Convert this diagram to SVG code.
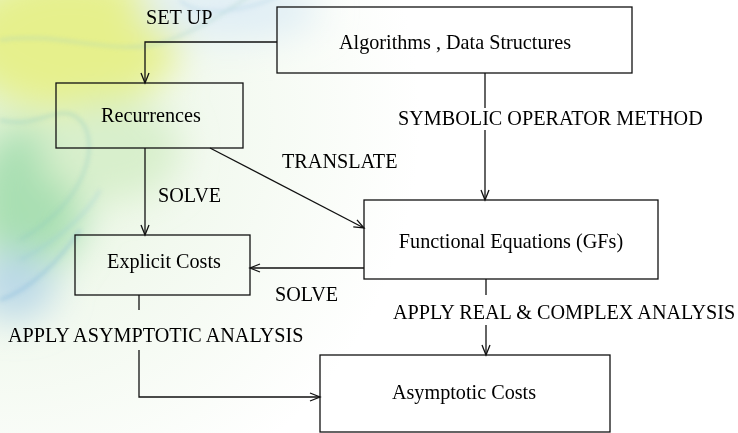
<svg xmlns="http://www.w3.org/2000/svg" width="738" height="433" viewBox="0 0 738 433">
<defs>
<style>
.box{fill:none;stroke:#111;stroke-width:1.3}
.ln{fill:none;stroke:#111;stroke-width:1.3}
.t{font-family:"Liberation Serif","Times New Roman",serif;font-size:20.2px;fill:#000}
.c{text-anchor:middle}
</style>
<marker id="ah" markerUnits="userSpaceOnUse" markerWidth="14" markerHeight="12" refX="11" refY="5" orient="auto">
<path d="M1,1 L11,5 L1,9" fill="none" stroke="#111" stroke-width="1.3"/>
</marker>
<filter id="blur" x="-50%" y="-50%" width="200%" height="200%"><feGaussianBlur stdDeviation="18"/></filter>
<filter id="blur2" x="-20%" y="-20%" width="140%" height="140%"><feGaussianBlur stdDeviation="2"/></filter>
<radialGradient id="bg" gradientUnits="userSpaceOnUse" cx="0" cy="120" r="420">
<stop offset="0" stop-color="#e2f3d6"/>
<stop offset="0.5" stop-color="#f2f9ef"/>
<stop offset="1" stop-color="#ffffff"/>
</radialGradient>
</defs>
<g id="background">
<rect x="0" y="0" width="738" height="433" fill="#ffffff"/>
<rect x="0" y="0" width="738" height="433" fill="url(#bg)"/>
<g filter="url(#blur)">
<ellipse cx="70" cy="40" rx="110" ry="70" fill="#e6f08c"/>
<ellipse cx="30" cy="200" rx="55" ry="75" fill="#a9dfb2"/>
<ellipse cx="15" cy="285" rx="40" ry="35" fill="#bcd9e8"/>
<ellipse cx="230" cy="10" rx="90" ry="30" fill="#e0eef5"/>
<ellipse cx="110" cy="150" rx="70" ry="50" fill="#d8efcc"/>
</g>
<g filter="url(#blur2)" fill="none" stroke-width="2">
<path d="M0,40 C60,30 120,60 170,40 S240,0 260,-10" stroke="#9fd0c6" opacity="0.5"/>
<path d="M0,120 C40,130 60,100 80,120 S90,200 20,240" stroke="#86c6c0" opacity="0.5"/>
<path d="M0,300 C30,290 60,260 80,230" stroke="#6aa9d8" opacity="0.5"/>
<path d="M20,260 C60,240 90,210 100,190" stroke="#8cc2dc" opacity="0.4"/>
<path d="M180,0 C200,20 250,10 280,-5" stroke="#a8cfe6" opacity="0.5"/>
</g>
</g>
<g id="connectors">
<polyline class="ln" points="277,42 145,42 145,83" marker-end="url(#ah)"/>
<line class="ln" x1="145" y1="148" x2="145" y2="235" marker-end="url(#ah)"/>
<line class="ln" x1="210" y1="148" x2="364" y2="228" marker-end="url(#ah)"/>
<line class="ln" x1="485" y1="73" x2="485" y2="108"/>
<line class="ln" x1="485" y1="130" x2="485" y2="200" marker-end="url(#ah)"/>
<line class="ln" x1="364" y1="268" x2="250" y2="268" marker-end="url(#ah)"/>
<line class="ln" x1="486" y1="279" x2="486" y2="295"/>
<line class="ln" x1="486" y1="325" x2="486" y2="355" marker-end="url(#ah)"/>
<line class="ln" x1="139" y1="295" x2="139" y2="310"/>
<polyline class="ln" points="139,350 139,397 320,397" marker-end="url(#ah)"/>
<text class="t" x="146" y="24">SET UP</text>
<text class="t" x="158" y="202">SOLVE</text>
<text class="t" x="282" y="168">TRANSLATE</text>
<text class="t" x="398" y="125">SYMBOLIC OPERATOR METHOD</text>
<text class="t" x="275" y="301">SOLVE</text>
<text class="t" x="393" y="319">APPLY REAL &amp; COMPLEX ANALYSIS</text>
<text class="t" x="8" y="342">APPLY ASYMPTOTIC ANALYSIS</text>
</g>
<g id="algorithms">
<rect class="box" x="277" y="7" width="355" height="66"/>
<text class="t c" x="455" y="49">Algorithms , Data Structures</text>
</g>
<g id="recurrences">
<rect class="box" x="56" y="83" width="187" height="65"/>
<text class="t c" x="151" y="122">Recurrences</text>
</g>
<g id="explicit">
<rect class="box" x="75" y="235" width="175" height="60"/>
<text class="t c" x="164" y="268">Explicit Costs</text>
</g>
<g id="functional">
<rect class="box" x="364" y="200" width="294" height="79"/>
<text class="t c" x="511" y="248">Functional Equations (GFs)</text>
</g>
<g id="asymptotic">
<rect class="box" x="320" y="355" width="290" height="77"/>
<text class="t c" x="464" y="399">Asymptotic Costs</text>
</g>
</svg>
